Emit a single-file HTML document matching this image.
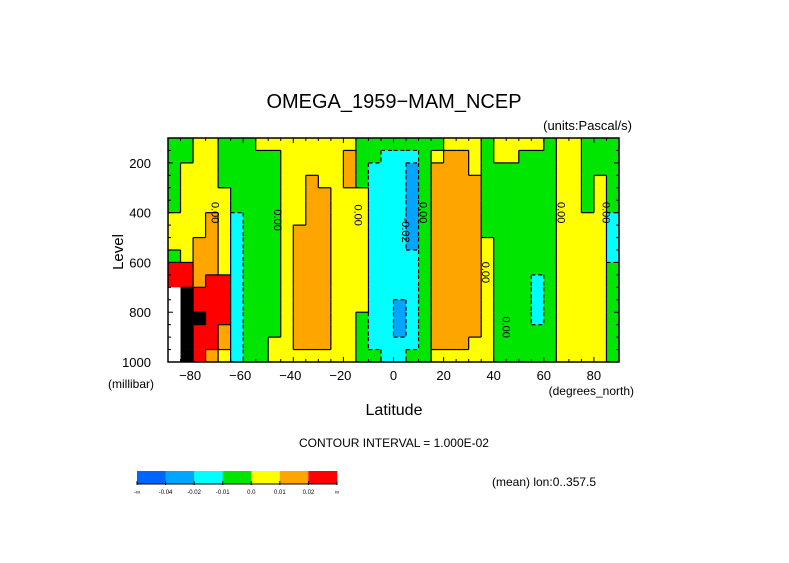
<!DOCTYPE html>
<html><head><meta charset="utf-8"><style>
html,body{margin:0;padding:0;background:#fff;}
svg text{font-family:"Liberation Sans",sans-serif;fill:#000;}
</style></head><body>
<svg id="chart" width="789" height="558" xmlns="http://www.w3.org/2000/svg">
<rect width="789" height="558" fill="#fff"/>
<text x="394" y="108" text-anchor="middle" font-size="20">OMEGA_1959&#8722;MAM_NCEP</text>
<text x="632" y="130" text-anchor="end" font-size="13">(units:Pascal/s)</text>
<g id="cells"></g>
<g id="lines"></g>
<g id="clabels"></g>
<rect x="168" y="138" width="451" height="224" fill="none" stroke="#000" stroke-width="1.5"/>
<g id="ticks"></g>
<g id="ylab"></g>
<g id="xlab"></g>
<text x="0" y="0" transform="translate(123,252) rotate(-90)" text-anchor="middle" font-size="15">Level</text>
<text x="108" y="388" font-size="12">(millibar)</text>
<text x="634" y="395" text-anchor="end" font-size="12">(degrees_north)</text>
<text x="394" y="415" text-anchor="middle" font-size="16">Latitude</text>
<text x="394" y="447" text-anchor="middle" font-size="12">CONTOUR INTERVAL = 1.000E-02</text>
<text x="492" y="486" font-size="12">(mean) lon:0..357.5</text>
<g id="cbar"></g>
</svg>
<script>
// latitude cell centres (degrees_north) and level cell centres (mb)
const lats=[-87.5,-82.5,-77.5,-72.5,-67.5,-62.5,-57.5,-52.5,-47.5,-42.5,-37.5,-32.5,-27.5,-22.5,-17.5,-12.5,-7.5,-2.5,2.5,7.5,12.5,17.5,22.5,27.5,32.5,37.5,42.5,47.5,52.5,57.5,62.5,67.5,72.5,77.5,82.5,87.5];
const levels=[125,175,225,275,325,375,425,475,525,575,625,675,725,775,825,875,925,975];
// omega (Pa/s), one row per latitude, values top(125mb) -> bottom(975mb)
const omega=[
[-0.005,-0.005,-0.005,-0.005,-0.005,-0.005,0.005,0.005,0.005,-0.005,0.025,0.025,null,null,null,null,null,null],
[-0.005,-0.005,0.005,0.005,0.005,0.005,0.005,0.005,0.005,0.005,0.025,0.025,0.05,0.05,0.05,0.05,0.05,0.05],
[0.005,0.005,0.005,0.005,0.005,0.005,0.005,0.005,0.015,0.015,0.015,0.015,0.025,0.025,0.05,0.025,0.025,0.025],
[0.005,0.005,0.005,0.005,0.005,0.005,0.015,0.015,0.015,0.015,0.015,0.025,0.025,0.025,0.025,0.025,0.025,0.015],
[-0.005,-0.005,-0.005,-0.005,0.005,0.005,0.005,0.005,0.005,0.005,0.005,0.025,0.025,0.025,0.025,0.015,0.015,0.005],
[-0.005,-0.005,-0.005,-0.005,-0.005,-0.005,-0.015,-0.015,-0.015,-0.015,-0.015,-0.015,-0.015,-0.015,-0.015,-0.015,-0.015,-0.015],
[-0.005,-0.005,-0.005,-0.005,-0.005,-0.005,-0.005,-0.005,-0.005,-0.005,-0.005,-0.005,-0.005,-0.005,-0.005,-0.005,-0.005,-0.005],
[0.005,-0.005,-0.005,-0.005,-0.005,-0.005,-0.005,-0.005,-0.005,-0.005,-0.005,-0.005,-0.005,-0.005,-0.005,-0.005,-0.005,-0.005],
[0.005,-0.005,-0.005,-0.005,-0.005,-0.005,-0.005,-0.005,-0.005,-0.005,-0.005,-0.005,-0.005,-0.005,-0.005,-0.005,0.005,0.005],
[0.005,0.005,0.005,0.005,0.005,0.005,0.005,0.005,0.005,0.005,0.005,0.005,0.005,0.005,0.005,0.005,0.005,0.005],
[0.005,0.005,0.005,0.005,0.005,0.005,0.005,0.015,0.015,0.015,0.015,0.015,0.015,0.015,0.015,0.015,0.015,0.005],
[0.005,0.005,0.005,0.015,0.015,0.015,0.015,0.015,0.015,0.015,0.015,0.015,0.015,0.015,0.015,0.015,0.015,0.005],
[0.005,0.005,0.005,0.005,0.015,0.015,0.015,0.015,0.015,0.015,0.015,0.015,0.015,0.015,0.015,0.015,0.015,0.005],
[0.005,0.005,0.005,0.005,0.005,0.005,0.005,0.005,0.005,0.005,0.005,0.005,0.005,0.005,0.005,0.005,0.005,0.005],
[0.005,0.015,0.015,0.015,0.005,0.005,0.005,0.005,0.005,0.005,0.005,0.005,0.005,0.005,0.005,0.005,0.005,0.005],
[-0.005,-0.005,-0.005,-0.005,0.005,0.005,0.005,0.005,0.005,0.005,0.005,0.005,0.005,0.005,-0.005,-0.005,-0.005,-0.005],
[-0.005,-0.005,-0.015,-0.015,-0.015,-0.015,-0.015,-0.015,-0.015,-0.015,-0.015,-0.015,-0.015,-0.015,-0.015,-0.015,-0.015,-0.005],
[-0.005,-0.015,-0.015,-0.015,-0.015,-0.015,-0.015,-0.015,-0.015,-0.015,-0.015,-0.015,-0.015,-0.015,-0.015,-0.015,-0.015,-0.015],
[-0.005,-0.015,-0.015,-0.015,-0.015,-0.015,-0.015,-0.015,-0.015,-0.015,-0.015,-0.015,-0.015,-0.03,-0.03,-0.03,-0.015,-0.015],
[-0.005,-0.015,-0.03,-0.03,-0.03,-0.03,-0.03,-0.03,-0.03,-0.015,-0.015,-0.015,-0.015,-0.015,-0.015,-0.015,-0.015,-0.005],
[-0.005,-0.005,-0.005,-0.005,-0.005,-0.005,-0.005,-0.005,-0.005,-0.005,-0.005,-0.005,-0.005,-0.005,-0.005,-0.005,-0.005,-0.005],
[-0.005,0.005,0.015,0.015,0.015,0.015,0.015,0.015,0.015,0.015,0.015,0.015,0.015,0.015,0.015,0.015,0.015,0.005],
[0.005,0.015,0.015,0.015,0.015,0.015,0.015,0.015,0.015,0.015,0.015,0.015,0.015,0.015,0.015,0.015,0.015,0.005],
[0.005,0.015,0.015,0.015,0.015,0.015,0.015,0.015,0.015,0.015,0.015,0.015,0.015,0.015,0.015,0.015,0.015,0.005],
[0.005,0.005,0.005,0.015,0.015,0.015,0.015,0.015,0.015,0.015,0.015,0.015,0.015,0.015,0.015,0.015,0.005,0.005],
[-0.005,-0.005,-0.005,-0.005,-0.005,-0.005,-0.005,-0.005,0.005,0.005,0.005,0.005,0.005,0.005,0.005,0.005,0.005,0.005],
[0.005,0.005,-0.005,-0.005,-0.005,-0.005,-0.005,-0.005,-0.005,-0.005,-0.005,-0.005,-0.005,-0.005,-0.005,-0.005,-0.005,-0.005],
[0.005,0.005,-0.005,-0.005,-0.005,-0.005,-0.005,-0.005,-0.005,-0.005,-0.005,-0.005,-0.005,-0.005,-0.005,-0.005,-0.005,-0.005],
[0.005,-0.005,-0.005,-0.005,-0.005,-0.005,-0.005,-0.005,-0.005,-0.005,-0.005,-0.005,-0.005,-0.005,-0.005,-0.005,-0.005,-0.005],
[0.005,-0.005,-0.005,-0.005,-0.005,-0.005,-0.005,-0.005,-0.005,-0.005,-0.005,-0.015,-0.015,-0.015,-0.015,-0.005,-0.005,-0.005],
[-0.005,-0.005,-0.005,-0.005,-0.005,-0.005,-0.005,-0.005,-0.005,-0.005,-0.005,-0.005,-0.005,-0.005,-0.005,-0.005,-0.005,-0.005],
[0.005,0.005,0.005,0.005,0.005,0.005,0.005,0.005,0.005,0.005,0.005,0.005,0.005,0.005,0.005,0.005,0.005,0.005],
[0.005,0.005,0.005,0.005,0.005,0.005,0.005,0.005,0.005,0.005,0.005,0.005,0.005,0.005,0.005,0.005,0.005,0.005],
[-0.005,-0.005,-0.005,-0.005,-0.005,-0.005,0.005,0.005,0.005,0.005,0.005,0.005,0.005,0.005,0.005,0.005,0.005,0.005],
[-0.005,-0.005,-0.005,0.005,0.005,0.005,0.005,0.005,0.005,0.005,0.005,0.005,0.005,0.005,0.005,0.005,0.005,0.005],
[-0.005,-0.005,-0.005,-0.005,-0.005,-0.005,-0.015,-0.015,-0.015,-0.015,-0.005,-0.005,-0.005,-0.005,-0.005,-0.005,-0.005,-0.005]
];
const xTicks=[-80,-60,-40,-20,0,20,40,60,80];
const yTicks=[200,400,600,800,1000];
const cbarLabels=["-\u221e","-0.04","-0.02","-0.01","0.0","0.01","0.02","\u221e"];
const cbarColors=["#0064ff","#00a5ff","#00ffff","#00e600","#ffff00","#ffa500","#ff0000"];
const contourLabels=[["0.00",-71,400],["0.00",-46,430],["0.00",-14,410],["-0.02",5,470],["0.00",12,400],["0.00",37,640],["0.00",45,860],["0.00",67,400],["0.00",85,400]];

const NS="http://www.w3.org/2000/svg";
const X0=168,X1=619,Y0=138,Y1=362;
function xs(lat){return X0+(lat+90)*(X1-X0)/180;}
function ys(lev){return Y0+(lev-100)*(Y1-Y0)/900;}
function cls(v){if(v===null)return -9;const b=[-0.04,-0.02,-0.01,0,0.01,0.02,0.04];let i=0;while(i<b.length&&v>=b[i])i++;return i;}
function col(c){if(c===-9)return "#ffffff";if(c>=7)return "#000000";return cbarColors[c];}
function mk(tag,attrs,parent){const e=document.createElementNS(NS,tag);for(const k in attrs)e.setAttribute(k,attrs[k]);parent.appendChild(e);return e;}
const gC=document.getElementById('cells'),gL=document.getElementById('lines');
const dLat=5,dLev=50;
for(let i=0;i<lats.length;i++){for(let j=0;j<levels.length;j++){
  const c=cls(omega[i][j]);
  const x=xs(lats[i]-dLat/2),y=ys(levels[j]-dLev/2);
  const r=mk('rect',{x:x.toFixed(2),y:y.toFixed(2),width:(xs(lats[i]+dLat/2)-x+0.4).toFixed(2),height:(ys(levels[j]+dLev/2)-y+0.4).toFixed(2),fill:col(c)},gC);
  
  
}}
function seg(x1,y1,x2,y2,dash){const l=mk('line',{x1:x1.toFixed(2),y1:y1.toFixed(2),x2:x2.toFixed(2),y2:y2.toFixed(2),stroke:'#000','stroke-width':1.2},gL);if(dash)l.setAttribute('stroke-dasharray','4 3');
  
  }
for(let i=0;i<lats.length;i++){for(let j=0;j<levels.length;j++){
  const a=omega[i][j];if(a===null)continue;const ca=cls(a);
  if(i+1<lats.length){const b=omega[i+1][j];if(b!==null&&cls(b)!==ca){const x=xs(lats[i]+dLat/2);seg(x,ys(levels[j]-dLev/2),x,ys(levels[j]+dLev/2),Math.max(a,b)<0);}}
  if(j+1<levels.length){const b=omega[i][j+1];if(b!==null&&cls(b)!==ca){const y=ys(levels[j]+dLev/2);seg(xs(lats[i]-dLat/2),y,xs(lats[i]+dLat/2),y,Math.max(a,b)<0);}}
}}
const gCl=document.getElementById('clabels');
contourLabels.forEach(d=>{const t=mk('text',{transform:`translate(${xs(d[1]).toFixed(1)},${ys(d[2]).toFixed(1)}) rotate(90)`,'text-anchor':'middle','font-size':11,y:4},gCl);t.textContent=d[0];
  
  });
const gT=document.getElementById('ticks');
for(let lat=-85;lat<90;lat+=5){const x=xs(lat);const L=(lat%20===0)?5:3;
  const t1=mk('line',{x1:x,y1:Y1,x2:x,y2:Y1-L,stroke:'#000'},gT);
  const t2=mk('line',{x1:x,y1:Y0,x2:x,y2:Y0+L,stroke:'#000'},gT);}
for(let lev=150;lev<1000;lev+=50){const y=ys(lev);const L=(lev%200===0)?5:3;
  const t1=mk('line',{x1:X0,y1:y,x2:X0+L,y2:y,stroke:'#000'},gT);
  const t2=mk('line',{x1:X1,y1:y,x2:X1-L,y2:y,stroke:'#000'},gT);}
const gY=document.getElementById('ylab');
yTicks.forEach(v=>{const t=mk('text',{x:151,y:(ys(v)+5).toFixed(1),'text-anchor':'end','font-size':13},gY);t.textContent=v;
  });
const gX=document.getElementById('xlab');
xTicks.forEach(v=>{const t=mk('text',{x:(xs(v)+(v<0?-3:0)).toFixed(1),y:380,'text-anchor':'middle','font-size':13},gX);t.textContent=(v<0?'\u2212'+(-v):v);
  });
const gB=document.getElementById('cbar');
const bx=137,bw=200/cbarColors.length;
cbarColors.forEach((c,i)=>{const r=mk('rect',{x:bx+i*bw,y:471,width:bw+0.3,height:13,fill:c},gB);});
mk('line',{x1:bx,y1:484,x2:bx+200,y2:484,stroke:'#000'},gB);
cbarLabels.forEach((s,i)=>{const x=bx+i*bw;mk('line',{x1:x,y1:481,x2:x,y2:485,stroke:'#000'},gB);
  const t=mk('text',{x:x,y:494,'text-anchor':'middle','font-size':6},gB);t.textContent=s;
  });
</script>
</body></html>
